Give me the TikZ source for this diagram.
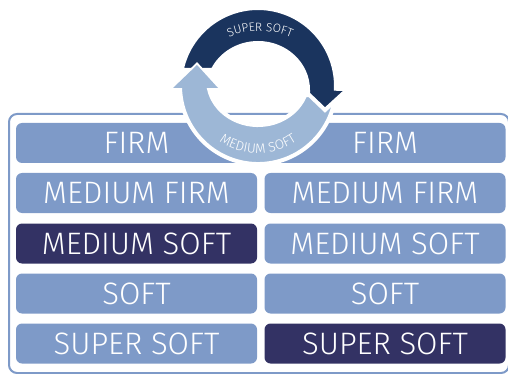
\documentclass[tikz,border=0pt]{standalone}
\usepackage{fontspec}
\setmainfont{Fira Sans}[UprightFont={* Light}]
\usepackage{tikz}
\usetikzlibrary{calc}
\usetikzlibrary{decorations.text}
\definecolor{foamblue}{RGB}{126,154,200}
\definecolor{foamdark}{RGB}{51,50,100}
\definecolor{ringdarkcol}{RGB}{26,52,94}
\definecolor{ringlightcol}{RGB}{157,183,214}
\tikzset{
	align=center,
	foam/.style={
		fill=foamblue,
		rounded corners=6pt,
		text=white,
		minimum width=241pt,
		minimum height=40pt,
		inner sep=0pt,
		font=\fontsize{31}{31}\selectfont,
	},
	chosenfoam/.style={
		foam,
		fill=foamdark,
	},
	boxframe/.style={
		draw=foamblue,
		line width=2pt,
		rounded corners=8pt,
	},
	ringlight/.style={
		fill=ringlightcol,
		draw=white,
		line width=4pt,
		line join=miter,
	},
	ringdark/.style={
		fill=ringdarkcol,
		draw=white,
		line width=4pt,
		line join=miter,
	},
}

\begin{document}
\begin{tikzpicture}[x=1pt, y=1pt]
		\clip (0,0) rectangle (508,-374);

		\draw[boxframe] (9,-114) rectangle (509,-373);

		\node[foam] (firmA) at (136.5,-143) {FIRM};
		\node[foam] (mfirmA) at (136.5,-193) {MEDIUM FIRM};
		\node[chosenfoam] (msoftA) at (136.5,-243.5) {MEDIUM SOFT};
		\node[foam] (softA) at (136.5,-293.5) {SOFT};
		\node[foam] (ssoftA) at (136.5,-343.5) {SUPER SOFT};

		\node[foam] (firmB) at (385,-143) {FIRM};
		\node[foam] (mfirmB) at (385,-193) {MEDIUM FIRM};
		\node[foam] (msoftB) at (385,-243.5) {MEDIUM SOFT};
		\node[foam] (softB) at (385,-293.5) {SOFT};
		\node[chosenfoam] (ssoftB) at (385,-343.5) {SUPER SOFT};

		% the two arrows round the top
		\filldraw[ringlight] (335.5,-95) arc[start angle=-6.6, end angle=-178.5, radius=78]
			-- (173,-88) -- (197,-65) -- (218,-88) -- (208.8,-88)
			arc[start angle=190.2, end angle=340.5, x radius=50, y radius=45] -- cycle;
		\filldraw[ringdark] (181.7,-69.8) arc[start angle=168, end angle=-2, radius=78]
			-- (348,-89) -- (325,-110) -- (303,-89) -- (308,-90)
			arc[start angle=0, end angle=154.8, x radius=50, y radius=47] -- cycle;
		% light head once more, over the dark tail
		\draw[white, line width=4pt, line join=miter] (173,-88) -- (197,-65) -- (218,-88);
		\fill[ringlightcol] (173,-88) -- (197,-65) -- (218,-88) -- cycle;

		\path[decorate, decoration={text along path, text align=center,
			text={|\fontsize{12}{12}\selectfont\color{white}|SUPER SOFT}}]
			(208.6,-49.7) arc[start angle=130, end angle=50, radius=80];
		\path[decorate, decoration={text along path, text align=center,
			text={|\fontsize{13.5}{14}\selectfont\color{white}|MEDIUM SOFT}}]
			(204.4,-128) arc[start angle=220, end angle=320, radius=70];

	\end{tikzpicture}
\end{document}
